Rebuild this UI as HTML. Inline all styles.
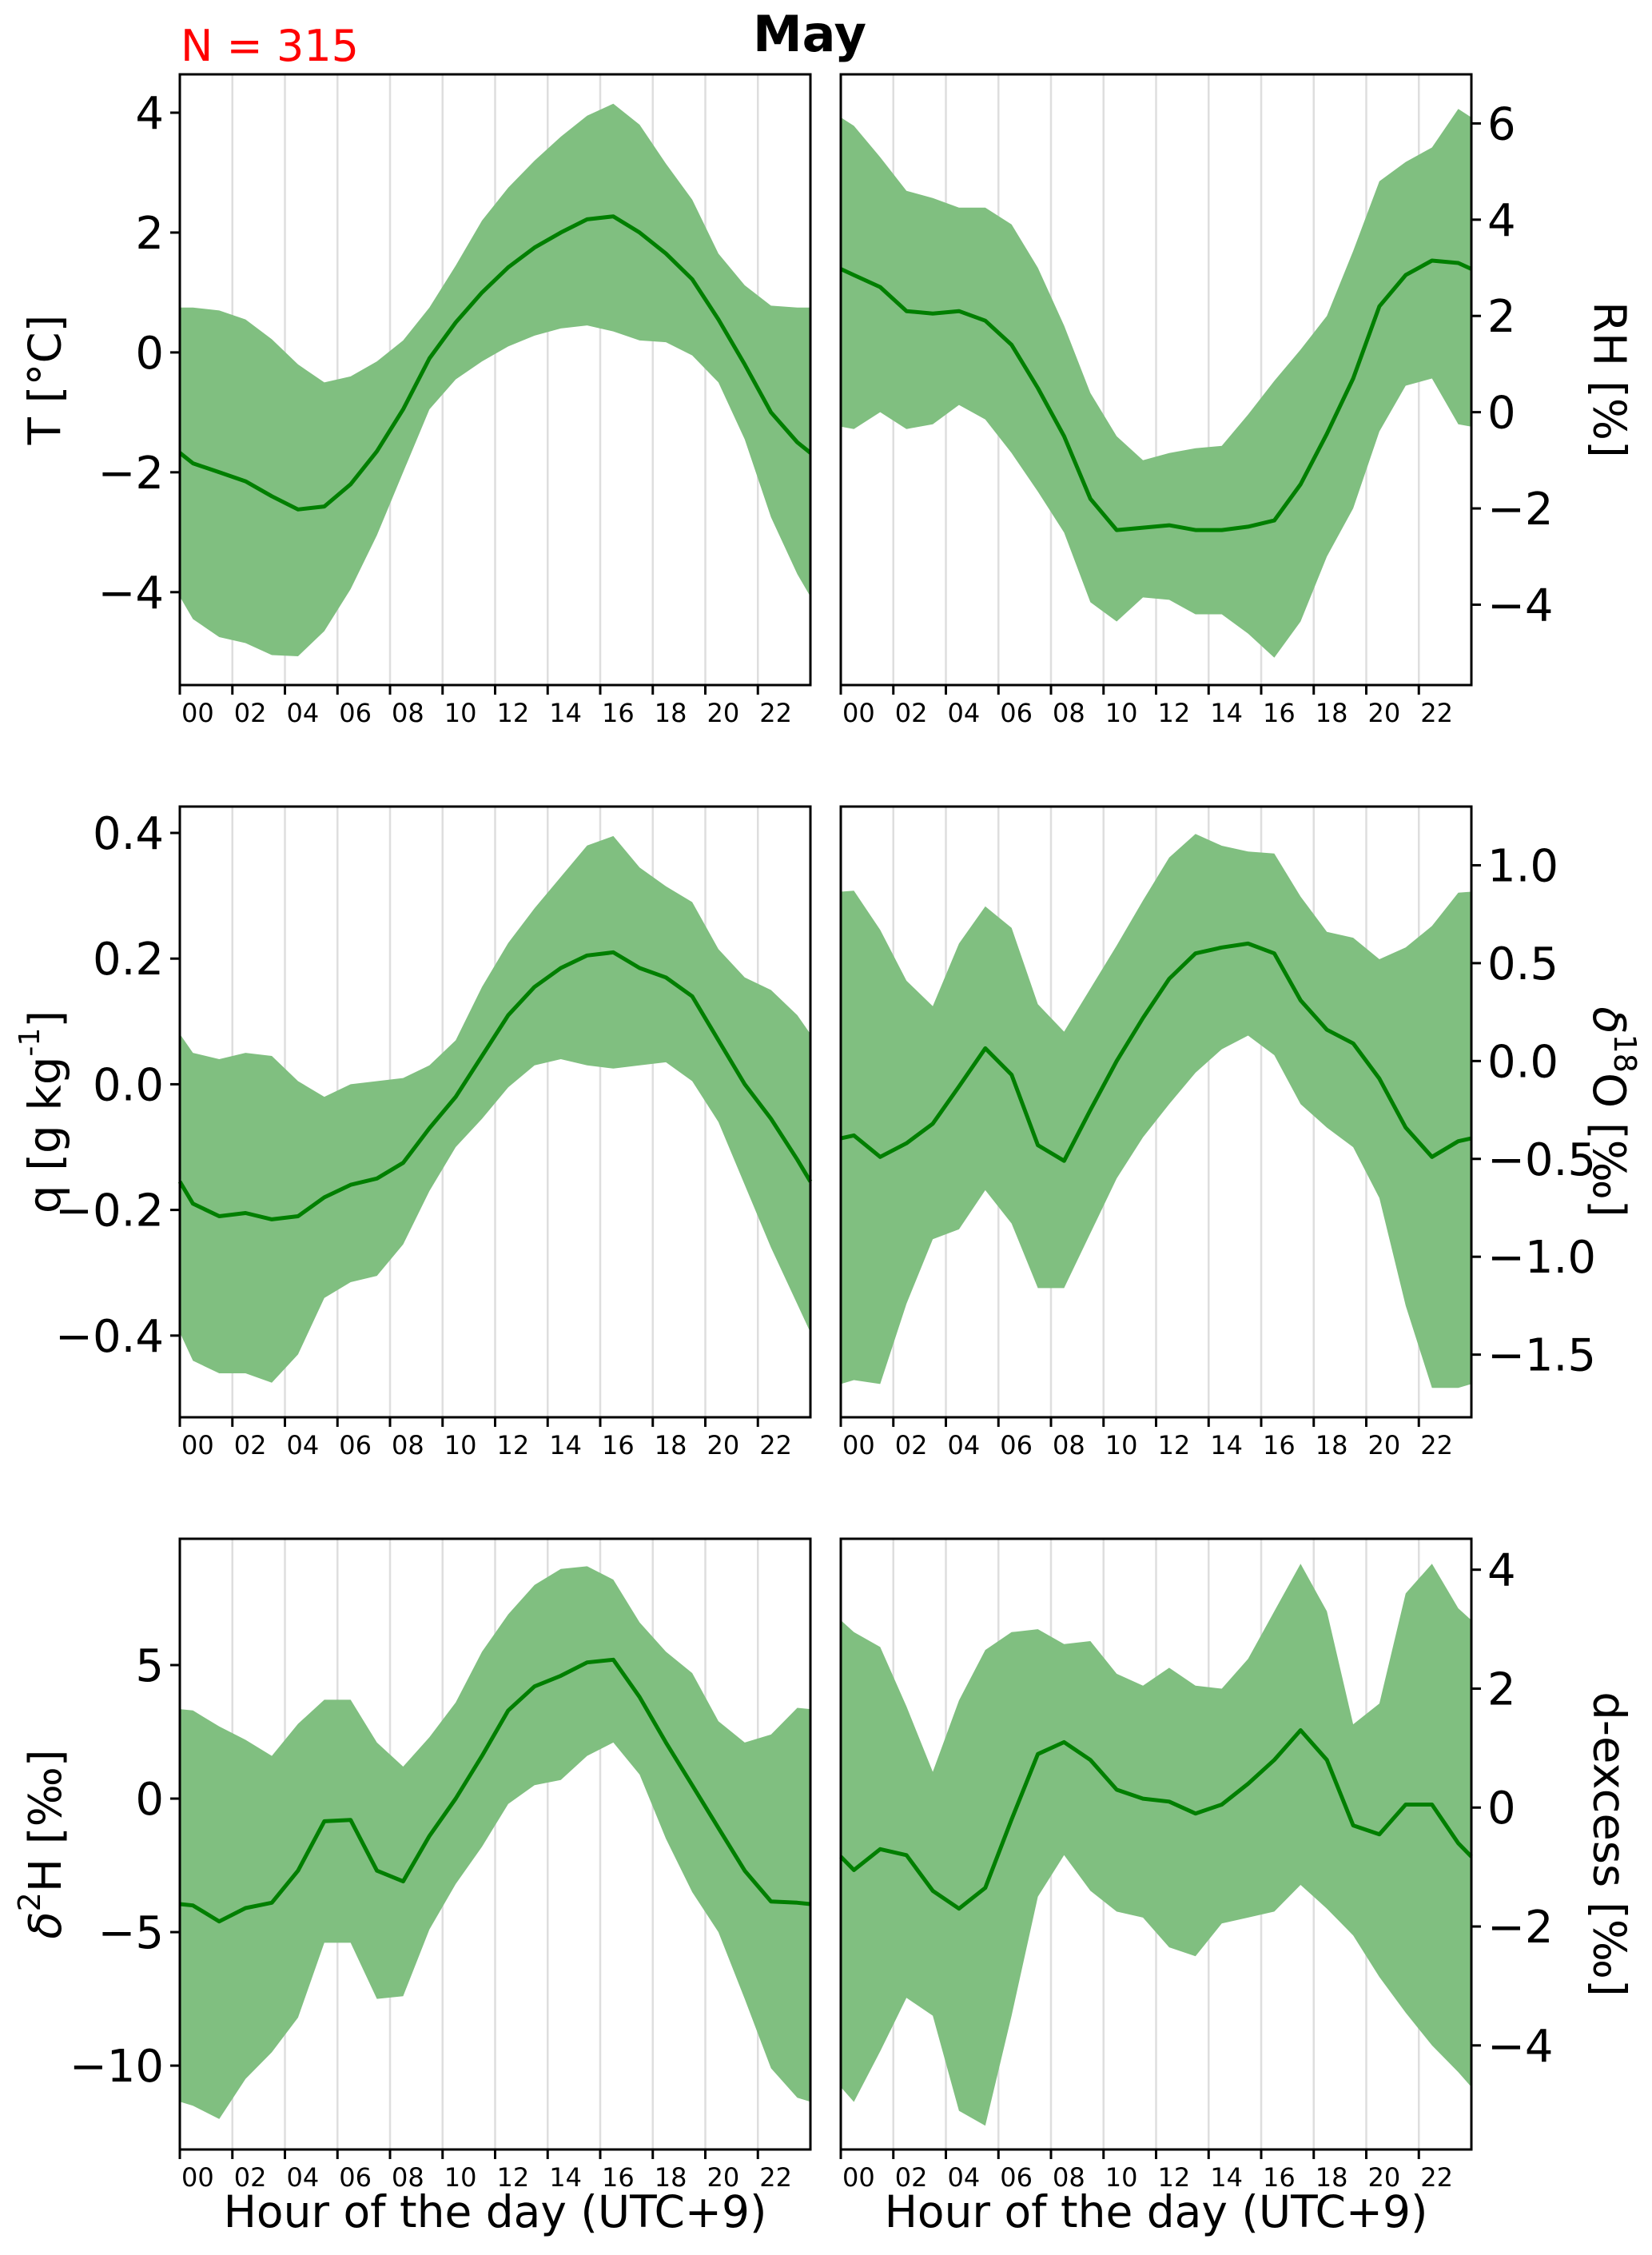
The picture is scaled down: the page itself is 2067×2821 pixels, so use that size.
<!DOCTYPE html>
<html><head><meta charset="utf-8"><style>
html,body{margin:0;padding:0;background:#fff}
svg{display:block;font-family:"DejaVu Sans","Liberation Sans",sans-serif}
</style></head><body>
<svg id="fig" width="2067" height="2821" viewBox="0 0 2067 2821" xmlns="http://www.w3.org/2000/svg">
<text x="1013" y="64" font-size="62" font-weight="bold" text-anchor="middle">May</text>
<text x="226" y="76" font-size="54" fill="#ff0000">N = 315</text>
</svg>
<script>
const hours = [0.5,1.5,2.5,3.5,4.5,5.5,6.5,7.5,8.5,9.5,10.5,11.5,12.5,13.5,14.5,15.5,16.5,17.5,18.5,19.5,20.5,21.5,22.5,23.5];
const xTickLabels = ["00","02","04","06","08","10","12","14","16","18","20","22"];

const tMean = [-1.85,-2.0,-2.15,-2.4,-2.62,-2.57,-2.2,-1.65,-0.95,-0.1,0.5,1.0,1.42,1.75,2.0,2.22,2.27,2.0,1.65,1.22,0.55,-0.2,-1.0,-1.5];
const tUpper = [0.75,0.7,0.55,0.22,-0.2,-0.5,-0.4,-0.15,0.2,0.75,1.45,2.2,2.75,3.2,3.6,3.95,4.15,3.8,3.15,2.55,1.65,1.12,0.78,0.75];
const tLower = [-4.45,-4.75,-4.85,-5.05,-5.07,-4.65,-3.95,-3.05,-2.0,-0.95,-0.45,-0.15,0.1,0.28,0.4,0.45,0.35,0.2,0.17,-0.05,-0.5,-1.45,-2.75,-3.7];
const tTicks = [-4,-2,0,2,4];

const rhMean = [2.85,2.6,2.1,2.05,2.1,1.9,1.4,0.5,-0.5,-1.8,-2.45,-2.4,-2.35,-2.45,-2.45,-2.38,-2.25,-1.5,-0.45,0.7,2.2,2.85,3.15,3.1];
const rhUpper = [5.95,5.3,4.6,4.45,4.25,4.25,3.9,3.0,1.8,0.4,-0.5,-1.0,-0.85,-0.75,-0.7,-0.05,0.65,1.3,2.0,3.35,4.8,5.2,5.5,6.3];
const rhLower = [-0.35,0.0,-0.35,-0.25,0.15,-0.15,-0.85,-1.65,-2.5,-3.95,-4.35,-3.85,-3.9,-4.2,-4.2,-4.6,-5.1,-4.35,-3.0,-2.0,-0.4,0.55,0.7,-0.25];
const rhTicks = [-4,-2,0,2,4,6];

const qMean = [-0.19,-0.21,-0.205,-0.215,-0.21,-0.18,-0.16,-0.15,-0.125,-0.07,-0.02,0.045,0.11,0.155,0.185,0.205,0.21,0.185,0.17,0.14,0.07,0.0,-0.055,-0.12];
const qUpper = [0.05,0.04,0.05,0.045,0.005,-0.02,0.0,0.005,0.01,0.03,0.07,0.155,0.225,0.28,0.33,0.38,0.395,0.345,0.315,0.29,0.215,0.17,0.15,0.11];
const qLower = [-0.44,-0.46,-0.46,-0.475,-0.43,-0.34,-0.315,-0.305,-0.255,-0.17,-0.1,-0.055,-0.005,0.03,0.04,0.03,0.025,0.03,0.035,0.005,-0.06,-0.16,-0.26,-0.35];
const qTicks = [-0.4,-0.2,0.0,0.2,0.4];

const oMean = [-0.38,-0.49,-0.42,-0.32,-0.13,0.065,-0.07,-0.43,-0.51,-0.25,0.0,0.22,0.42,0.55,0.58,0.60,0.55,0.31,0.16,0.09,-0.09,-0.34,-0.49,-0.41];
const oUpper = [0.87,0.67,0.41,0.28,0.60,0.79,0.68,0.29,0.15,0.37,0.59,0.82,1.04,1.16,1.10,1.07,1.06,0.84,0.66,0.63,0.52,0.58,0.69,0.86];
const oLower = [-1.63,-1.65,-1.24,-0.91,-0.86,-0.66,-0.83,-1.16,-1.16,-0.88,-0.60,-0.39,-0.22,-0.06,0.06,0.13,0.03,-0.22,-0.34,-0.44,-0.70,-1.25,-1.67,-1.67];
const oTicks = [-1.5,-1.0,-0.5,0.0,0.5,1.0];

const hMean = [-4.0,-4.6,-4.1,-3.9,-2.7,-0.85,-0.8,-2.7,-3.1,-1.4,0.0,1.6,3.3,4.2,4.6,5.1,5.2,3.8,2.1,0.5,-1.1,-2.7,-3.85,-3.9];
const hUpper = [3.3,2.7,2.2,1.6,2.8,3.7,3.7,2.1,1.2,2.3,3.6,5.5,6.9,8.0,8.6,8.7,8.2,6.6,5.5,4.7,2.9,2.1,2.4,3.4];
const hLower = [-11.5,-12.0,-10.5,-9.5,-8.2,-5.4,-5.4,-7.5,-7.4,-4.9,-3.2,-1.8,-0.2,0.5,0.7,1.6,2.1,0.9,-1.5,-3.5,-5.0,-7.5,-10.1,-11.2];
const hTicks = [-10,-5,0,5];

const dMean = [-1.05,-0.7,-0.8,-1.4,-1.7,-1.35,-0.2,0.9,1.1,0.8,0.3,0.15,0.1,-0.1,0.05,0.4,0.8,1.3,0.8,-0.3,-0.45,0.05,0.05,-0.6];
const dUpper = [2.95,2.7,1.7,0.6,1.8,2.65,2.95,3.0,2.75,2.8,2.25,2.05,2.35,2.05,2.0,2.5,3.3,4.1,3.3,1.4,1.75,3.6,4.1,3.35];
const dLower = [-4.95,-4.1,-3.2,-3.5,-5.1,-5.35,-3.5,-1.5,-0.8,-1.4,-1.75,-1.85,-2.35,-2.5,-1.95,-1.85,-1.75,-1.3,-1.7,-2.15,-2.85,-3.45,-4.0,-4.45];
const dTicks = [-4,-2,0,2,4];

const NS = "http://www.w3.org/2000/svg";
const svg = document.getElementById('fig');
function mk(tag, attrs, parent){
  const e = document.createElementNS(NS, tag);
  for (const k in attrs) e.setAttribute(k, attrs[k]);
  (parent||svg).appendChild(e);
  return e;
}
function fmt(v, dec){
  const s = Math.abs(v).toFixed(dec);
  return (v < 0 ? "\u2212" : "") + s;
}
function withEdges(arr){
  const e = (arr[0] + arr[arr.length-1]) / 2;
  return [e].concat(arr, [e]);
}
const xs = [0].concat(hours, [24]);

function panel(p){
  const g = mk('g', {});
  
  
  const X = h => p.x0 + (h / 24) * (p.x1 - p.x0);
  const Y = v => p.y1 - (v - p.ymin) / (p.ymax - p.ymin) * (p.y1 - p.y0);
  for (let i = 1; i < xTickLabels.length; i++) {
    const gl = mk('line', {x1:X(i*2), x2:X(i*2), y1:p.y0, y2:p.y1, stroke:'#dedede', 'stroke-width':2.5}, g);
    
    
  }
  const up = withEdges(p.upper), lo = withEdges(p.lower), mn = withEdges(p.mean);
  let d = '';
  xs.forEach((h,i) => d += (i ? 'L' : 'M') + X(h).toFixed(1) + ',' + Y(up[i]).toFixed(1));
  for (let i = xs.length - 1; i >= 0; i--) d += 'L' + X(xs[i]).toFixed(1) + ',' + Y(lo[i]).toFixed(1);
  const band = mk('path', {d: d + 'Z', fill:'#80bf80', stroke:'none'}, g);
  
  
  let dl = '';
  xs.forEach((h,i) => dl += (i ? 'L' : 'M') + X(h).toFixed(1) + ',' + Y(mn[i]).toFixed(1));
  const ln = mk('path', {d: dl, fill:'none', stroke:'#007f00', 'stroke-width':5, 'stroke-linejoin':'round'}, g);
  
  
  const fr = mk('rect', {x:p.x0, y:p.y0, width:p.x1-p.x0, height:p.y1-p.y0, fill:'none', stroke:'#000', 'stroke-width':3}, g);
  
  
  xTickLabels.forEach((lab, i) => {
    const x = X(i*2);
    mk('line', {x1:x, x2:x, y1:p.y1, y2:p.y1+12, stroke:'#000', 'stroke-width':3}, g);
    const t = mk('text', {x:x+2, y:p.y1+46, 'font-size':32, 'text-anchor':'start'}, g);
    
    
    t.textContent = lab;
  });
  p.ticks.forEach(v => {
    const y = Y(v);
    if (p.side === 'left') {
      mk('line', {x1:p.x0-12, x2:p.x0, y1:y, y2:y, stroke:'#000', 'stroke-width':3}, g);
      const t = mk('text', {x:p.x0-20, y:y+20, 'font-size':56, 'text-anchor':'end'}, g);
      
      
      t.textContent = fmt(v, p.dec);
    } else {
      mk('line', {x1:p.x1, x2:p.x1+12, y1:y, y2:y, stroke:'#000', 'stroke-width':3}, g);
      const t = mk('text', {x:p.x1+20, y:y+20, 'font-size':56, 'text-anchor':'start'}, g);
      
      
      t.textContent = fmt(v, p.dec);
    }
  });
  const cy = (p.y0 + p.y1) / 2;
  const lx = p.side === 'left' ? 57 : 2013;
  const rot = p.side === 'left' ? -90 : 90;
  const yl = mk('text', {x:lx, y:cy, 'font-size':56, 'text-anchor':'middle', 'dominant-baseline':'central', transform:`rotate(${rot} ${lx} ${cy})`}, g);
  
  
  yl.innerHTML = p.label;
  if (p.xlabel) {
    const xl = mk('text', {x:(p.x0+p.x1)/2, y:2786, 'font-size':55, 'text-anchor':'middle'}, g);
    
    
    xl.textContent = 'Hour of the day (UTC+9)';
  }
}

const L0 = 225, L1 = 1014, R0 = 1052, R1 = 1841;
panel({name:'temperature-panel', side:'left', x0:L0, x1:L1, y0:93, y1:857, ymin:-5.55, ymax:4.64, mean:tMean, upper:tUpper, lower:tLower, ticks:tTicks, dec:0, label:'T [°C]'});
panel({name:'humidity-panel', side:'right', x0:R0, x1:R1, y0:93, y1:857, ymin:-5.67, ymax:7.02, mean:rhMean, upper:rhUpper, lower:rhLower, ticks:rhTicks, dec:0, label:'RH [%]'});
panel({name:'specific-humidity-panel', side:'left', x0:L0, x1:L1, y0:1009, y1:1773, ymin:-0.53, ymax:0.442, mean:qMean, upper:qUpper, lower:qLower, ticks:qTicks, dec:1, label:'q [g kg<tspan dy="-20" font-size="36">-1</tspan><tspan dy="20">]</tspan>'});
panel({name:'d18o-panel', side:'right', x0:R0, x1:R1, y0:1009, y1:1773, ymin:-1.82, ymax:1.30, mean:oMean, upper:oUpper, lower:oLower, ticks:oTicks, dec:1, label:'<tspan font-style="italic">δ</tspan><tspan dy="-20" font-size="38">18</tspan><tspan dy="20">O [‰]</tspan>'});
panel({name:'d2h-panel', side:'left', x0:L0, x1:L1, y0:1925, y1:2689, ymin:-13.14, ymax:9.73, mean:hMean, upper:hUpper, lower:hLower, ticks:hTicks, dec:0, label:'<tspan font-style="italic">δ</tspan><tspan dy="-20" font-size="38">2</tspan><tspan dy="20">H [‰]</tspan>', xlabel:true});
panel({name:'d-excess-panel', side:'right', x0:R0, x1:R1, y0:1925, y1:2689, ymin:-5.75, ymax:4.52, mean:dMean, upper:dUpper, lower:dLower, ticks:dTicks, dec:0, label:'d-excess [‰]', xlabel:true});
</script>
</body></html>
